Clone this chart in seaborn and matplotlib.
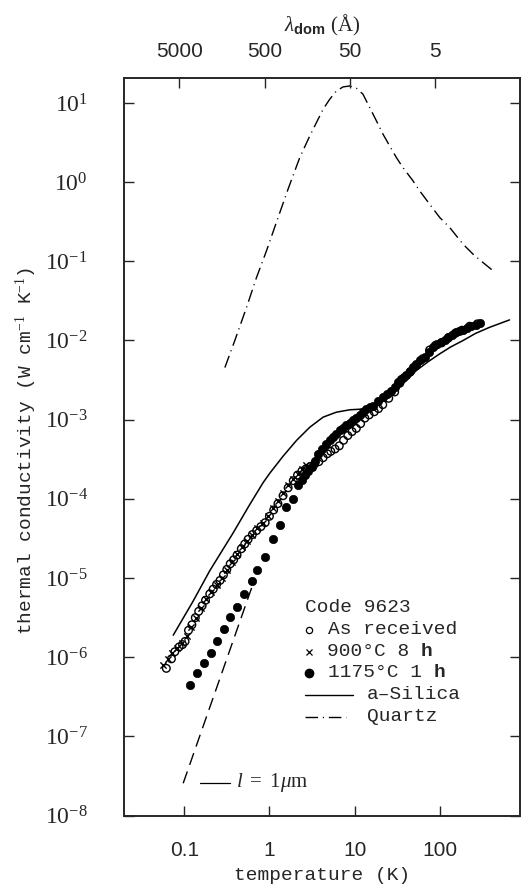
import numpy as np
import matplotlib
matplotlib.use("Agg")
import matplotlib.pyplot as plt
import seaborn as sns
from matplotlib.ticker import FixedLocator, FixedFormatter, NullLocator

# ---------------- data (log10 T [K], log10 k [W/cm/K]) -------------
open_logT = [-1.21, -1.15, -1.11, -1.06, -1.02, -0.99, -0.95, -0.91, -0.87, -0.83, -0.79,
             -0.75, -0.70, -0.66, -0.62, -0.58, -0.54, -0.50, -0.46, -0.42, -0.38, -0.33,
             -0.29, -0.25, -0.20, -0.15, -0.10, -0.05, 0.00, 0.05, 0.10, 0.16, 0.22, 0.28,
             0.33, 0.38, 0.43, 0.48, 0.53, 0.58, 0.63, 0.68, 0.72, 0.77, 0.82, 0.87, 0.92,
             0.97, 1.02, 1.07, 1.12, 1.17, 1.23, 1.28, 1.33, 1.40, 1.47, 1.53, 1.58, 1.65,
             1.72, 1.80, 1.88, 1.95, 2.02, 2.10, 2.18, 2.26, 2.35, 2.44]
open_logk = [-6.14, -6.02, -5.93, -5.87, -5.84, -5.80, -5.66, -5.59, -5.50, -5.42, -5.35,
             -5.28, -5.20, -5.14, -5.08, -5.03, -4.96, -4.89, -4.82, -4.77, -4.71, -4.63,
             -4.57, -4.51, -4.45, -4.40, -4.35, -4.30, -4.22, -4.14, -4.06, -3.96, -3.86,
             -3.77, -3.70, -3.65, -3.62, -3.59, -3.56, -3.53, -3.48, -3.43, -3.40, -3.37,
             -3.33, -3.26, -3.20, -3.15, -3.11, -3.05, -2.98, -2.94, -2.90, -2.86, -2.81,
             -2.73, -2.65, -2.54, -2.47, -2.40, -2.32, -2.23, -2.12, -2.06, -2.03, -1.97,
             -1.91, -1.87, -1.82, -1.79]

cross_logT = [-1.25, -1.19, -1.14, -1.08, -1.03, -0.97, -0.92, -0.86, -0.80, -0.74, -0.68,
              -0.62, -0.56, -0.50, -0.44, -0.38, -0.32, -0.26, -0.20, -0.14, -0.08, -0.02,
              0.04, 0.10, 0.16, 0.22, 0.28, 0.33, 0.38, 0.43]
cross_logk = [-6.10, -6.02, -5.95, -5.88, -5.82, -5.73, -5.62, -5.50, -5.38, -5.27, -5.17,
              -5.09, -5.00, -4.90, -4.80, -4.70, -4.61, -4.53, -4.45, -4.37, -4.30, -4.22,
              -4.12, -4.03, -3.93, -3.83, -3.745, -3.68, -3.62, -3.57]

filled_logT = [-0.933, -0.855, -0.769, -0.690, -0.613, -0.535, -0.464, -0.386, -0.300,
               -0.206, -0.144, -0.054, 0.043, 0.122, 0.200, 0.271, 0.336, 0.38, 0.415, 0.455,
               0.494, 0.53, 0.571, 0.62, 0.669, 0.71, 0.747, 0.785, 0.825, 0.865, 0.904, 0.94,
               0.981, 1.02, 1.060, 1.10, 1.138, 1.18, 1.216, 1.27, 1.333, 1.38, 1.431, 1.470,
               1.51, 1.549, 1.60, 1.646, 1.685, 1.724, 1.77, 1.822, 1.87, 1.919, 1.97, 2.018,
               2.06, 2.095, 2.14, 2.193, 2.23, 2.271, 2.32, 2.369, 2.42, 2.467]
filled_logk = [-6.352, -6.204, -6.078, -5.952, -5.793, -5.637, -5.491, -5.364, -5.195,
               -5.037, -4.893, -4.734, -4.502, -4.325, -4.103, -3.997, -3.830, -3.76, -3.704,
               -3.65, -3.599, -3.52, -3.430, -3.37, -3.304, -3.26, -3.221, -3.18, -3.136,
               -3.10, -3.073, -3.04, -3.010, -2.98, -2.946, -2.90, -2.862, -2.84, -2.821,
               -2.77, -2.716, -2.67, -2.633, -2.590, -2.53, -2.484, -2.43, -2.380, -2.34,
               -2.295, -2.25, -2.212, -2.15, -2.086, -2.05, -2.023, -1.99, -1.960, -1.93,
               -1.897, -1.88, -1.866, -1.84, -1.812, -1.80, -1.783]

silica_logT = [-1.129, -0.90, -0.699, -0.426, -0.23, -0.074, 0.005, 0.161, 0.318, 0.474,
               0.630, 0.787, 0.943, 1.060, 1.15, 1.25, 1.35, 1.45, 1.567, 1.724, 1.86, 1.998,
               2.13, 2.271, 2.42, 2.583, 2.818]
silica_logk = [-5.721, -5.30, -4.905, -4.43, -4.07, -3.795, -3.675, -3.46, -3.262, -3.095,
               -2.968, -2.905, -2.875, -2.868, -2.85, -2.81, -2.76, -2.67, -2.547, -2.379,
               -2.27, -2.169, -2.08, -2.001, -1.91, -1.834, -1.740]

quartz_logT = [-0.523, -0.406, -0.268, -0.151, -0.034, 0.102, 0.219, 0.356, 0.474, 0.552,
               0.630, 0.708, 0.787, 0.864, 0.943, 1.021, 1.098, 1.177, 1.256, 1.333, 1.411,
               1.490, 1.567, 1.685, 1.763, 1.880, 1.998, 2.115, 2.271, 2.388, 2.505, 2.623]
quartz_logk = [-2.342, -2.00, -1.58, -1.203, -0.866, -0.446, -0.088, 0.310, 0.584, 0.752,
               0.920, 1.047, 1.151, 1.202, 1.214, 1.185, 1.110, 0.941, 0.773, 0.605, 0.458,
               0.310, 0.184, 0.016, -0.110, -0.278, -0.446, -0.572, -0.782, -0.908, -1.014,
               -1.118]

quartz1um_logT = [-1.012, -0.191]
quartz1um_logk = [-7.591, -5.069]

x_ticks = [0.1, 1, 10, 100]
x_ticklabels = ["0.1", "1", "10", "100"]
y_exponents = [-8, -7, -6, -5, -4, -3, -2, -1, 0, 1]
lam_ticks = [5000, 500, 50, 5]
lam_ticklabels = ["5000", "500", "50", "5"]
LAMBDA_T = 438.0  # lambda_dom * T  (Angstrom K)

legend_title = "Code 9623"
legend_open = "As received"
legend_cross = "900°C 8"
legend_filled = "1175°C 1"
legend_silica = "a–Silica"
legend_quartz = "Quartz"

# ---------------- style ----------------
sns.set_style("ticks")
plt.rcParams["font.family"] = ["Liberation Mono", "DejaVu Sans"]
plt.rcParams["mathtext.fontset"] = "custom"
plt.rcParams["mathtext.rm"] = "Liberation Serif"
plt.rcParams["mathtext.it"] = "Liberation Serif:italic"
plt.rcParams["mathtext.bf"] = "Liberation Sans:bold"
plt.rcParams["axes.linewidth"] = 1.2

MONO = 14
DASHDOT = (0, (9, 3.5, 0.8, 3.5))

fig = plt.figure(figsize=(5.22, 8.86), dpi=100)
ax = fig.add_axes([0.2375, 0.0794, 0.7595, 0.8326])

to_lin = lambda a: np.power(10.0, np.asarray(a))

# curves
sns.lineplot(x=to_lin(silica_logT), y=to_lin(silica_logk), ax=ax, color="black",
             linewidth=1.1, sort=False, estimator=None)
sns.lineplot(x=to_lin(quartz_logT), y=to_lin(quartz_logk), ax=ax, color="black",
             linewidth=1.0, sort=False, estimator=None)
ax.lines[-1].set_linestyle(DASHDOT)
sns.lineplot(x=to_lin(quartz1um_logT), y=to_lin(quartz1um_logk), ax=ax, color="black",
             linewidth=1.0, sort=False, estimator=None)
ax.lines[-1].set_linestyle((0, (9, 5)))

# data points
sns.scatterplot(x=to_lin(cross_logT), y=to_lin(cross_logk), ax=ax, marker="x", s=20,
                color="black", linewidth=1.0, zorder=3)
sns.scatterplot(x=to_lin(open_logT), y=to_lin(open_logk), ax=ax, marker="o", s=30,
                color="none", edgecolor="black", linewidth=1.0, zorder=4)
sns.scatterplot(x=to_lin(filled_logT), y=to_lin(filled_logk), ax=ax, marker="o", s=36,
                color="black", edgecolor="black", linewidth=0.5, zorder=5)

ax.set_xscale("log")
ax.set_yscale("log")
xmin, xmax = 10 ** -1.707, 10 ** 2.946
ax.set_xlim(xmin, xmax)
ax.set_ylim(1e-8, 10 ** 1.315)

ax.xaxis.set_major_locator(FixedLocator(x_ticks))
ax.xaxis.set_major_formatter(FixedFormatter(x_ticklabels))
ax.xaxis.set_minor_locator(NullLocator())
y_ticks = [10.0 ** e for e in y_exponents]
ax.yaxis.set_major_locator(FixedLocator(y_ticks))
ax.yaxis.set_major_formatter(FixedFormatter([r"$10^{%d}$" % e for e in y_exponents]))
ax.yaxis.set_minor_locator(NullLocator())

ax.tick_params(axis="x", which="major", direction="in", length=7, width=1.0, top=False,
               pad=18, labelsize=15, labelfontfamily="Liberation Sans")
ax.tick_params(axis="y", which="major", direction="in", length=7, width=1.0, right=True,
               pad=26, labelsize=17)
for s in ax.spines.values():
    s.set_visible(True)
    s.set_linewidth(1.2)

ax.set_xlabel("temperature (K)", fontsize=MONO, labelpad=5)
ax.set_ylabel(r"thermal conductivity (W cm$^{-1}$ K$^{-1}$)", fontsize=MONO)
ax.yaxis.set_label_coords(-0.215, 0.495)

# top axis: dominant phonon wavelength
ax2 = ax.twiny()
ax2.set_xscale("log")
ax2.set_xlim(LAMBDA_T / xmin, LAMBDA_T / xmax)
ax2.xaxis.set_major_locator(FixedLocator(lam_ticks))
ax2.xaxis.set_major_formatter(FixedFormatter(lam_ticklabels))
ax2.xaxis.set_minor_locator(NullLocator())
ax2.tick_params(axis="x", which="major", direction="in", length=7, width=1.0, pad=12,
                labelsize=15, labelfontfamily="Liberation Sans")
ax2.set_xlabel(r"$\lambda_{\mathbf{dom}}$ (Å)", fontsize=15, labelpad=8,
               fontfamily=["Liberation Serif", "DejaVu Sans"])

# annotation for the l = 1 um dashed line
tr = ax.transAxes
ax.plot([0.192, 0.268], [0.0443, 0.0443], color="black", lw=0.9, transform=tr)
ax.text(0.283, 0.0443, r"$l\ =\ 1\mu$m", transform=tr, fontsize=15, va="center",
        ha="left", fontfamily=["Liberation Serif", "DejaVu Sans"])

# legend (drawn as text block)
ax.text(0.457, 0.2816, legend_title, transform=tr, fontsize=MONO, va="center", ha="left")
ax.plot([0.466], [0.2517], marker="o", ms=4.5, mfc="none", mec="black", mew=0.9,
        transform=tr, ls="none")
ax.text(0.515, 0.2517, legend_open, transform=tr, fontsize=MONO, va="center", ha="left")
ax.plot([0.466], [0.2219], marker="x", ms=3.8, color="black", mew=0.9, transform=tr,
        ls="none")
ax.text(0.513, 0.2219, legend_cross, transform=tr, fontsize=MONO, va="center", ha="left")
ax.text(0.749, 0.2219, "h", transform=tr, fontsize=MONO, va="center", ha="left",
        fontweight="bold")
ax.plot([0.466], [0.1934], marker="o", ms=6, color="black", transform=tr, ls="none")
ax.text(0.515, 0.1934, legend_filled, transform=tr, fontsize=MONO, va="center", ha="left")
ax.text(0.781, 0.1934, "h", transform=tr, fontsize=MONO, va="center", ha="left",
        fontweight="bold")
ax.plot([0.457, 0.578], [0.1636, 0.1636], color="black", lw=1.0, transform=tr)
ax.text(0.612, 0.1636, legend_silica, transform=tr, fontsize=MONO, va="center", ha="left")
ax.plot([0.457, 0.56], [0.1338, 0.1338], color="black", lw=1.0, transform=tr,
        ls=DASHDOT)
ax.text(0.612, 0.1338, legend_quartz, transform=tr, fontsize=MONO, va="center", ha="left")

fig.savefig("out.png", dpi=100)
